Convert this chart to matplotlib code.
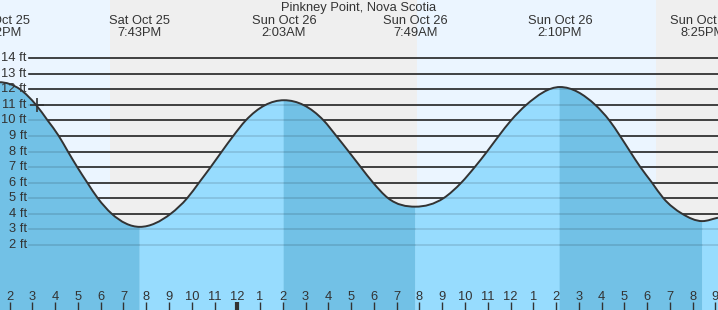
import numpy as np
import matplotlib.pyplot as plt
from matplotlib.patches import PathPatch
from matplotlib.path import Path
from matplotlib.transforms import blended_transform_factory

plt.rcParams['font.family'] = ['Liberation Sans', 'DejaVu Sans']

# Tide readings: hours relative to Sun Oct 26 00:00, height in ft
tide_hours = [-10.46, -9.54, -8.84, -8.33, -7.84, -7.44, -7.03, -6.59, -6.13, -5.52,
              -4.28, -2.92, -2.20, -1.68, -1.17, -0.68, -0.18, 0.37,
              2.05, 3.79, 4.35, 4.89, 5.42, 5.96, 6.62,
              7.82, 9.06, 9.84, 10.43, 10.97, 11.48, 12.02, 12.69,
              14.17, 15.72, 16.34, 16.81, 17.25, 17.70, 18.21, 18.71,
              19.53, 20.42, 21.11]
tide_ft = [12.46, 12.0, 11.0, 10.0, 9.0, 8.0, 7.0, 6.0, 5.0, 4.0,
           3.15, 4.0, 5.0, 6.0, 7.0, 8.0, 9.0, 10.0,
           11.3, 10.0, 9.0, 8.0, 7.0, 6.0, 5.0,
           4.45, 5.0, 6.0, 7.0, 8.0, 9.0, 10.0, 11.0,
           12.15, 11.0, 10.0, 9.0, 8.0, 7.0, 6.0, 5.0,
           4.0, 3.52, 3.74]

# high / low tide events
extreme_hours = [-10.46, -4.28, 2.05, 7.82, 14.17, 20.42]
extreme_days = ['Sat Oct 25', 'Sat Oct 25', 'Sun Oct 26', 'Sun Oct 26', 'Sun Oct 26', 'Sun Oct 26']
extreme_times = ['1:32PM', '7:43PM', '2:03AM', '7:49AM', '2:10PM', '8:25PM']

# sunset Sat, sunrise Sun, sunset Sun
sun_hours = [-5.59, 7.88, 18.39]

now_hour, now_ft = -8.80, 11.0

levels = list(range(2, 15))
hour_ticks = list(range(-10, 22))

title = 'Pinkney Point, Nova Scotia'

x_min, x_max = -10.422, 21.111
y_min, y_max = -2.20, 17.75

day_color = '#ebf5ff'
night_color = '#efefef'
fall_color = '#72c1e6'
rise_color = '#97dcfe'
text_color = '#333333'


def curve_slopes(xs, ys, flat):
    # slope at each reading, flat at the highs and lows, no overshoot between readings
    n = len(xs)
    s = np.zeros(n)
    for i in range(n):
        if i in flat:
            continue
        if i == 0:
            s[i] = (ys[1] - ys[0]) / (xs[1] - xs[0])
        elif i == n - 1:
            s[i] = (ys[-1] - ys[-2]) / (xs[-1] - xs[-2])
        else:
            h1, h2 = xs[i] - xs[i - 1], xs[i + 1] - xs[i]
            d1, d2 = (ys[i] - ys[i - 1]) / h1, (ys[i + 1] - ys[i]) / h2
            s[i] = (d1 * h2 + d2 * h1) / (h1 + h2)
    for i in range(n - 1):
        d = (ys[i + 1] - ys[i]) / (xs[i + 1] - xs[i])
        for j in (i, i + 1):
            if d == 0 or s[j] * d < 0:
                s[j] = 0
            elif abs(s[j]) > 3 * abs(d):
                s[j] = 3 * d
    return s


def smooth_path(xs, ys, s, a, b, bottom=None):
    verts = [(xs[a], ys[a])]
    codes = [Path.MOVETO]
    for i in range(a, b):
        dx = xs[i + 1] - xs[i]
        verts += [(xs[i] + dx / 3, ys[i] + s[i] * dx / 3),
                  (xs[i + 1] - dx / 3, ys[i + 1] - s[i + 1] * dx / 3),
                  (xs[i + 1], ys[i + 1])]
        codes += [Path.CURVE4] * 3
    if bottom is not None:
        verts += [(xs[b], bottom), (xs[a], bottom), (xs[a], ys[a])]
        codes += [Path.LINETO, Path.LINETO, Path.CLOSEPOLY]
    return Path(verts, codes)


fig = plt.figure(figsize=(7.18, 3.10), dpi=100)
ax = fig.add_axes([0, 0, 1, 1])
ax.set_xlim(x_min, x_max)
ax.set_ylim(y_min, y_max)
ax.axis('off')

# day / night background
edges = [x_min] + sun_hours + [x_max]
for i in range(len(edges) - 1):
    ax.axvspan(edges[i], edges[i + 1], color=day_color if i % 2 == 0 else night_color,
               lw=0, zorder=0)

# grid lines above the water
for lv in levels:
    ax.axhline(lv, xmin=29.3 / 718, xmax=1, color='#222222', lw=1.2, zorder=2)

h = np.array(tide_hours)
ft = np.array(tide_ft)
ext_idx = [tide_hours.index(e) for e in extreme_hours]
slopes = curve_slopes(h, ft, ext_idx)

# water, darker while falling, lighter while rising
bounds = ext_idx + [len(h) - 1]
for i in range(len(bounds) - 1):
    col = fall_color if i % 2 == 0 else rise_color
    ax.add_patch(PathPatch(smooth_path(h, ft, slopes, bounds[i], bounds[i + 1], y_min - 1),
                           facecolor=col, edgecolor=col, lw=0.4, zorder=3))

# grid lines seen through the water
water = PathPatch(smooth_path(h, ft, slopes, 0, len(h) - 1, y_min - 1),
                  facecolor='none', edgecolor='none')
ax.add_patch(water)
for lv in levels:
    ln = ax.axhline(lv, xmin=29.3 / 718, xmax=1, color='black', alpha=0.13, lw=1.2, zorder=4)
    ln.set_clip_path(water)

ax.add_patch(PathPatch(smooth_path(h, ft, slopes, 0, len(h) - 1),
                       facecolor='none', edgecolor='#333333', lw=1.4, zorder=5))
ax.plot(now_hour, now_ft, marker='+', ms=10, mew=1.2, color='#333333', zorder=6)

ytr = blended_transform_factory(ax.transAxes, ax.transData)
for lv in levels:
    ax.text(26.7 / 718, lv, f'{lv} ft', transform=ytr, ha='right', va='center',
            fontsize=9.3, color=text_color, zorder=7)

xtr = blended_transform_factory(ax.transData, ax.transAxes)
for t in hour_ticks:
    lab = t % 12 or 12
    ax.plot([t, t], [0, 8 / 310], transform=xtr, color='#333333',
            lw=3 if t == 0 else 1, solid_capstyle='butt', zorder=7)
    ax.text(t, 10 / 310, str(lab), transform=xtr, ha='center', va='baseline',
            fontsize=9.3, color=text_color, zorder=7)

for eh, dname, tname in zip(extreme_hours, extreme_days, extreme_times):
    ax.text(eh, 1 - 24 / 310, dname, transform=xtr, ha='center', va='baseline',
            fontsize=9.3, color=text_color, zorder=7)
    ax.text(eh, 1 - 36 / 310, tname, transform=xtr, ha='center', va='baseline',
            fontsize=9.3, color=text_color, zorder=7)

ax.text(0.4997, 1 - 11.5 / 310, title, transform=ax.transAxes, ha='center', va='baseline',
        fontsize=9.3, color=text_color, zorder=7)

fig.savefig('out.png', dpi=100)
